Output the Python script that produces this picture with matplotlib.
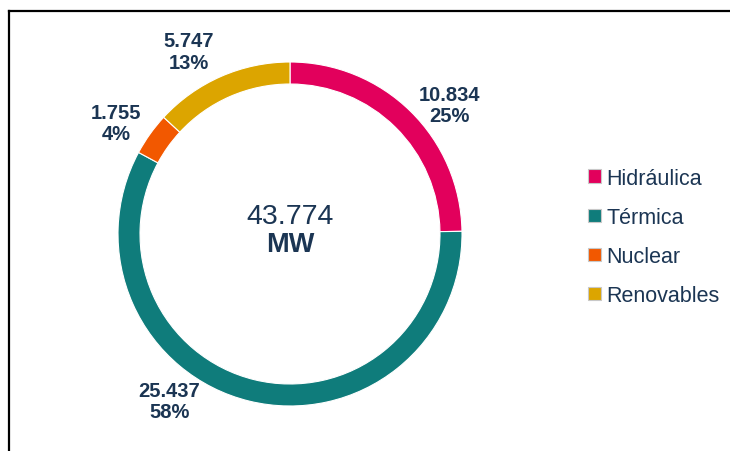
import matplotlib
matplotlib.use("Agg")
import matplotlib.pyplot as plt
from matplotlib.patches import Patch
from matplotlib.lines import Line2D

# datos de potencia instalada (MW)
categorias = ["Hidráulica", "Térmica", "Nuclear", "Renovables"]
valores = [10834, 25437, 1755, 5747]
etiquetas_valor = ["10.834", "25.437", "1.755", "5.747"]
etiquetas_pct = ["25%", "58%", "4%", "13%"]
total_txt = "43.774"
colores = ["#E2005C", "#0F7C7B", "#F25800", "#DCA500"]

# posiciones de las etiquetas (coords. del eje, radio exterior = 1)
pos_etiquetas = [(0.927, 0.75), (-0.703, -0.971), (-1.012, 0.645), (-0.587, 1.061)]

azul = "#1B3553"
plt.rcParams['font.family'] = ['Liberation Sans', 'DejaVu Sans']

fig = plt.figure(figsize=(7.3, 4.52), dpi=100)
W, H = 730, 452
cx, cy, r = 290, 235, 172
ax = fig.add_axes([(cx - r) / W, (H - cy - r) / H, 2 * r / W, 2 * r / H])
ax.pie(valores, colors=colores, startangle=90, counterclock=False, radius=1,
       wedgeprops=dict(width=0.128, edgecolor="white", linewidth=0.8))
ax.set_xlim(-1, 1)
ax.set_ylim(-1, 1)
ax.set_aspect("equal")
ax.axis("off")

for (x, y), v, p in zip(pos_etiquetas, etiquetas_valor, etiquetas_pct):
    ax.text(x, y, v + "\n" + p, ha="center", va="center", fontsize=14.5,
            fontweight="bold", color=azul, linespacing=1.15)

ax.text(0, 0.105, total_txt, ha="center", va="center", fontsize=20.5, color=azul)
ax.text(0, -0.058, "MW", ha="center", va="center", fontsize=19.5,
        fontweight="bold", color=azul)

handles = [Patch(facecolor=c, edgecolor="#C8C8C8", linewidth=0.8) for c in colores]
fig.legend(handles, categorias, loc="center left",
           bbox_to_anchor=(588 / W, 1 - 238 / H), frameon=False, fontsize=15.5,
           handlelength=0.6, handleheight=0.6, handletextpad=0.25,
           labelspacing=0.84, labelcolor=azul, borderpad=0, borderaxespad=0)

# marco superior e izquierdo
fig.add_artist(Line2D([9 / W, 1], [1 - 12 / H, 1 - 12 / H], color="black", lw=1.6))
fig.add_artist(Line2D([9 / W, 9 / W], [0, 1 - 12 / H], color="black", lw=1.6))

fig.savefig("out.png", dpi=100, facecolor="white")
